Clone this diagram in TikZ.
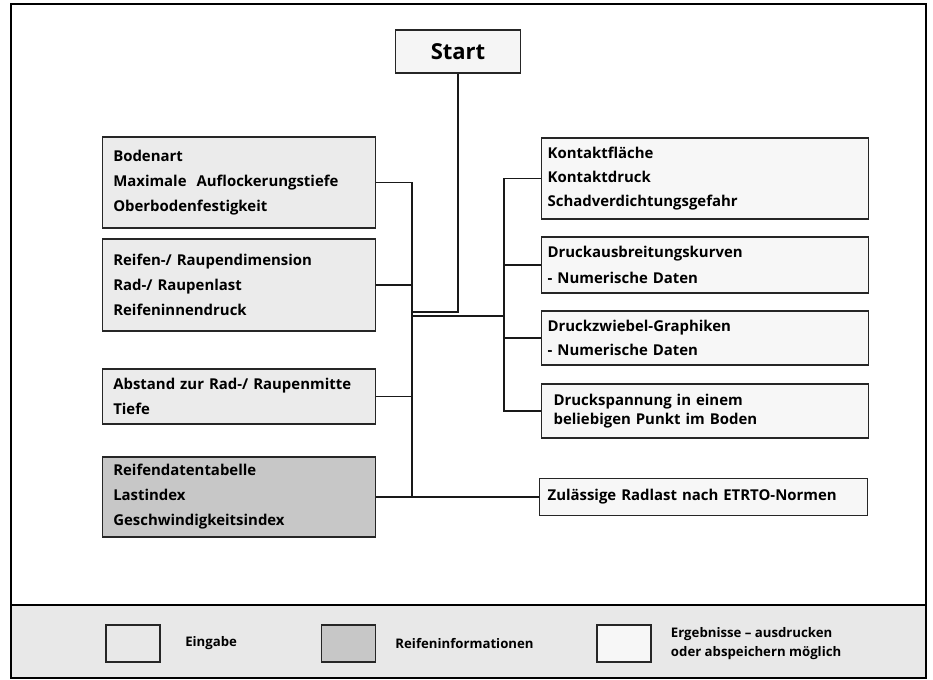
\documentclass[tikz,border=0pt]{standalone}
\usepackage{fontspec}
\setmainfont{Open Sans}
\usepackage{xcolor}
\usepackage{tikz}
\usetikzlibrary{positioning}
\tikzset{
	eingabe/.style = {
		rectangle,
		anchor = west,
		align = left,
		draw = black!85,
		line width = 0.9pt,
		fill = black!8,
		inner xsep = 8pt,
		text width = 188.75pt,
		font = \bfseries\fontsize{11.2}{18.75}\selectfont,
	},
	reifinfo/.style = {eingabe, fill = black!22},
	ergebnis/.style = {
		eingabe,
		fill = black!3,
		inner xsep = 4.5pt,
		text width = 236.25pt,
		font = \bfseries\fontsize{11.2}{18}\selectfont,
	},
	legbox/.style = {
		rectangle,
		draw = black!85,
		line width = 0.9pt,
		minimum width = 40.5pt,
		minimum height = 27.75pt,
	},
	legtext/.style = {anchor = west, align = left, font = \bfseries\fontsize{9.9}{14}\selectfont},
	conn/.style = {line width = 0.9pt, black!90},
}

\begin{document}
\begin{tikzpicture}[x = 0.75pt, y = -0.75pt]
	\useasboundingbox (0,0) rectangle (933,680);
	% frame and legend band
	\draw[line width = 1.2pt, fill = white](11,4) rectangle (926,678);
	\draw[line width = 1.2pt, fill = black!9](11,605) rectangle (926,678);

	\node[ergebnis, anchor = center, text width = 85pt, align = center, minimum height = 32.25pt,
		font = \bfseries\fontsize{16.5}{18}\selectfont, fill = black!4](start) at (458,51.5){Start};

	% inputs
	\node[eingabe, minimum height = 68.25pt](boden) at (102,182.5){Bodenart\\Maximale\ \ Auflockerungstiefe\\Oberbodenfestigkeit};
	\node[eingabe, minimum height = 69pt](reifen) at (102,285){Reifen-/ Raupendimension\\Rad-/ Raupenlast\\Reifeninnendruck};
	\node[eingabe, minimum height = 41.25pt](abstand) at (102,396.5){Abstand zur Rad-/ Raupenmitte\\Tiefe};
	\node[reifinfo, minimum height = 60pt](reifdat) at (102,497){Reifendatentabelle\\Lastindex\\Geschwindigkeitsindex};

	% results
	\node[ergebnis, minimum height = 60.75pt](kontakt) at (541,178.5){Kontaktfläche\\Kontaktdruck\\Schadverdichtungsgefahr};
	\node[ergebnis, minimum height = 42pt, font = \bfseries\fontsize{11.2}{20}\selectfont](druckaus) at (541,265){Druckausbreitungskurven\\- Numerische Daten};
	\node[ergebnis, minimum height = 40.5pt](druckzw) at (541,338){Druckzwiebel-Graphiken\\- Numerische Daten};
	\node[ergebnis, minimum height = 40.5pt, inner xsep = 9pt, text width = 227.25pt,
		font = \bfseries\fontsize{11.2}{14.25}\selectfont](drucksp) at (541,411){Druckspannung in einem\\beliebigen Punkt im Boden};
	\node[ergebnis, minimum height = 27.75pt, inner xsep = 6pt, text width = 234pt](zulast) at (539,497){Zulässige Radlast nach ETRTO-Normen};

	% connectors
	\coordinate (ltb) at (412,497);
	\coordinate (lj) at (412,312);
	\coordinate (lk) at (412,316);
	\coordinate (rt) at (504,316);
	\draw[conn](start.south) |- (lj);
	\draw[conn](boden.east) -| (ltb);
	\draw[conn](reifen.east) -- (reifen.east -| ltb);
	\draw[conn](abstand.east) -- (abstand.east -| ltb);
	\draw[conn](reifdat.east) -- (zulast.west);
	\draw[conn](lk) -- (rt);
	\draw[conn](kontakt.west) -| (rt);
	\draw[conn](drucksp.west) -| (rt);
	\draw[conn](druckaus.west) -- (druckaus.west -| rt);
	\draw[conn](druckzw.west) -- (druckzw.west -| rt);

	% legend
	\node[legbox, fill = black!9](legein) at (133,643.5){};
	\node[legtext, right = 15pt of legein](txtein){Eingabe};
	\node[legbox, fill = black!22](legreif) at (348.5,643.5){};
	\node[legtext, right = 11pt of legreif](txtreif){Reifeninformationen};
	\node[legbox, fill = black!3](legerg) at (624,643.5){};
	\node[legtext, right = 11pt of legerg](txterg){Ergebnisse -- ausdrucken\\oder abspeichern möglich};
\end{tikzpicture}
\end{document}
